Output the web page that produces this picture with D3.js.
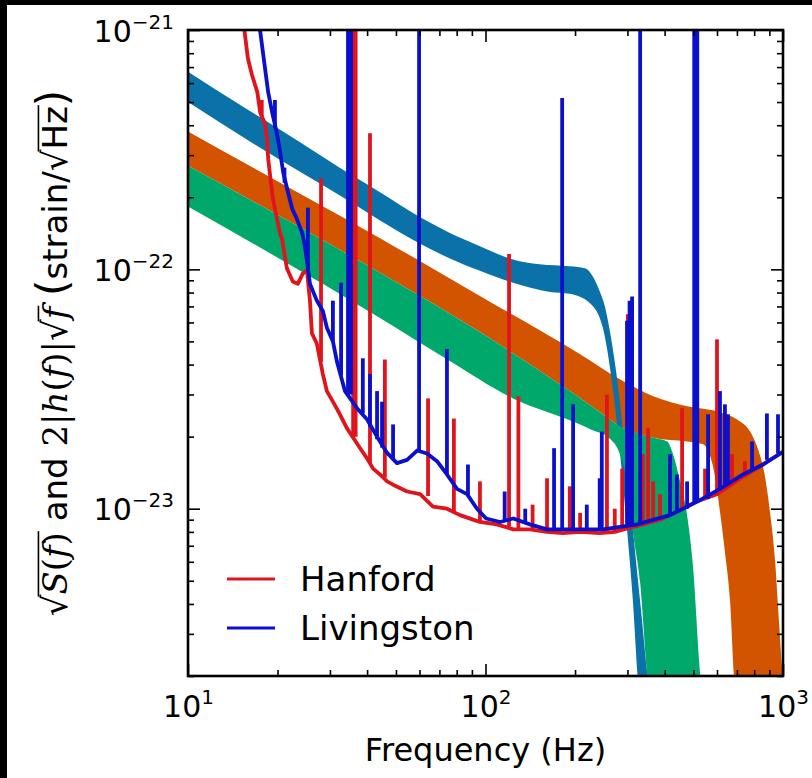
<!DOCTYPE html>
<html>
<head>
<meta charset="utf-8">
<script src="https://cdn.jsdelivr.net/npm/d3@7"></script>
<style>
  html, body { margin: 0; padding: 0; background: #fff; }
  svg { display: block; }
</style>
</head>
<body>
<svg id="chart" width="812" height="778"></svg>
<script>
// ---------------- DATA ----------------
const xMajorTicks = [10, 100, 1000];
const xTickExponents = ["1", "2", "3"];
const yMajorTicks = [1e-23, 1e-22, 1e-21];
const yTickExponents = ["\u221223", "\u221222", "\u221221"];

// Signal template bands: [frequency Hz, strain]
const blueBandUpper = [[10,6.7e-22],[16.1,4.6e-22],[23.8,3.4e-22],[35,2.5e-22],[44.2,2.1e-22],[60.3,1.65e-22],[75.9,1.42e-22],[95.8,1.25e-22],[123.7,1.1e-22],[152,1.05e-22],[192,1.03e-22],[216,1.01e-22],[230,9.3e-23],[242,8.1e-23],[252,7.0e-23],[262,5.5e-23],[272,4.1e-23],[283,2.8e-23],[294,1.73e-23],[311,8.8e-24],[331,4.1e-24],[357,1.7e-24],[365,1.5e-24]];
const blueBandLower = [[10,5.0e-22],[16.1,3.43e-22],[23.8,2.56e-22],[35,1.92e-22],[44.2,1.6e-22],[60.3,1.28e-22],[75.9,1.11e-22],[95.8,9.86e-23],[123.7,8.8e-23],[165,8.05e-23],[192,7.9e-23],[225,7.2e-23],[248,5.7e-23],[266,3.4e-23],[283,1.73e-23],[299,8.2e-24],[313,4.1e-24],[325,1.95e-24],[331,1.55e-24]];

const orangeBandUpper = [[10,3.77e-22],[23.8,2.07e-22],[44.2,1.35e-22],[95.8,7.74e-23],[208,4.42e-23],[283,3.47e-23],[366,2.95e-23],[476,2.68e-23],[614,2.53e-23],[701,2.36e-23],[775,2.10e-23],[824,1.77e-23],[870,1.36e-23],[904,9.7e-24],[941,6.0e-24],[969,3.4e-24],[1000,1.95e-24],[1050,1.5e-24]];
const orangeBandLower = [[10,2.71e-22],[44.2,9.67e-23],[95.8,5.47e-23],[192,3.10e-23],[248,2.48e-23],[283,2.21e-23],[366,1.98e-23],[476,1.91e-23],[539,1.86e-23],[569,1.66e-23],[591,1.36e-23],[614,9.7e-24],[638,6.6e-24],[664,4.1e-24],[685,1.95e-24],[700,1.5e-24]];

const greenBandUpper = [[10,2.71e-22],[44.2,9.67e-23],[95.8,5.47e-23],[192,3.10e-23],[248,2.48e-23],[283,2.21e-23],[366,1.98e-23],[408,1.91e-23],[427,1.69e-23],[451,1.30e-23],[476,9.4e-24],[498,5.8e-24],[526,2.07e-24],[540,1.5e-24]];
const greenBandLower = [[10,1.83e-22],[44.2,6.26e-23],[74.2,4.21e-23],[123.7,2.89e-23],[208,2.25e-23],[225,2.15e-23],[262,1.96e-23],[283,1.69e-23],[299,1.30e-23],[313,8.0e-24],[331,4.9e-24],[349,2.07e-24],[360,1.5e-24]];

// Detector noise curves: [frequency Hz, strain]
const hanford = [[14.96,1.62e-21],[15.5,9.8e-22],[15.9,7.6e-22],[16.4,6.5e-22],[17.1,5.5e-22],[17.5,4.5e-22],[18.1,4.1e-22],[18.4,3.6e-22],[18.6,2.9e-22],[19.0,2.3e-22],[19.3,1.97e-22],[19.8,1.68e-22],[20.4,1.41e-22],[20.7,1.34e-22],[21.5,1.01e-22],[22.5,8.9e-23],[23.4,8.7e-23],[24.3,9.6e-23],[25.1,9.9e-23],[25.7,7.4e-23],[26.1,5.4e-23],[27.1,4.9e-23],[28.4,3.65e-23],[29.3,3.1e-23],[30.7,2.8e-23],[32.4,2.48e-23],[34.2,2.17e-23],[37.9,1.79e-23],[40.0,1.62e-23],[41.9,1.47e-23],[44.2,1.39e-23],[46.7,1.30e-23],[48.9,1.26e-23],[54.5,1.18e-23],[60.3,1.15e-23],[66.6,1.02e-23],[74.2,1.0e-23],[82.1,9.4e-24],[90.8,9.0e-24],[95.8,8.8e-24],[109,8.6e-24],[124,8.2e-24],[141,8.2e-24],[161,8.0e-24],[182,7.9e-24],[208,8.0e-24],[242,7.9e-24],[272,8.0e-24],[301,8.3e-24],[338,8.6e-24],[386,9.0e-24],[440,9.7e-24],[510,1.07e-23],[600,1.15e-23],[734,1.36e-23],[857,1.53e-23],[1000,1.73e-23]];
// Spectral lines: [frequency Hz, base strain, peak strain]
const hanfordLines = [[17.7,4.3e-22,5.1e-22],[28.0,4.1e-23,2.4e-22],[35.9,2.0e-23,2e-21],[36.6,2.0e-23,2e-21],[40.9,1.55e-23,3.7e-22],[45.9,1.35e-23,4.2e-23],[64.1,1.13e-23,2.89e-23],[78.3,9.7e-24,2.38e-23],[95.8,8.8e-24,1.30e-23],[120,8.4e-24,1.16e-22],[129,8.3e-24,2.95e-23],[144,8.1e-24,1.04e-23],[161,8.0e-24,1.34e-23],[192,7.9e-24,1.24e-23],[208,8.0e-24,9.6e-24],[256,7.9e-24,3.0e-23],[272,8.0e-24,1.0e-23],[288,8.1e-24,1.47e-23],[301,8.3e-24,6.5e-23],[338,8.6e-24,1.69e-23],[352,8.7e-24,2.17e-23],[366,8.8e-24,1.3e-23],[386,9.0e-24,1.15e-23],[458,1.0e-23,2.63e-23],[547,1.1e-23,1.47e-23],[600,1.15e-23,5.1e-23],[674,1.25e-23,1.69e-23],[745,1.35e-23,1.58e-23]];

const livingston = [[16.9,1.62e-21],[17.5,9.8e-22],[18.1,7.1e-22],[18.6,5.5e-22],[19.2,4.5e-22],[19.9,3.7e-22],[20.4,3.1e-22],[20.9,2.54e-22],[21.7,2.09e-22],[22.4,1.79e-22],[23.2,1.63e-22],[24.2,1.42e-22],[24.7,1.25e-22],[25.1,1.09e-22],[25.7,8.7e-23],[27.1,7.4e-23],[28.4,6.7e-23],[29.3,5.7e-23],[30.7,5.0e-23],[31.7,4.1e-23],[33.7,3.1e-23],[37.0,2.63e-23],[40.0,2.36e-23],[43.2,2.0e-23],[46.7,1.71e-23],[50.4,1.55e-23],[54.5,1.6e-23],[58.9,1.75e-23],[63.6,1.7e-23],[68.7,1.58e-23],[74.2,1.39e-23],[80.2,1.21e-23],[86.7,1.15e-23],[93.6,1.0e-23],[100.5,9.1e-24],[112,8.8e-24],[124,9.1e-24],[141,8.6e-24],[161,8.2e-24],[182,8.2e-24],[208,8.2e-24],[248,8.2e-24],[323,8.6e-24],[417,9.4e-24],[515,1.07e-23],[614,1.21e-23],[734,1.39e-23],[857,1.53e-23],[1000,1.73e-23]];
const livingstonLines = [[19.6,3.9e-22,5.1e-22],[21.1,2.3e-22,2.66e-22],[25.3,9.9e-23,1.81e-22],[30.7,5.0e-23,7.4e-23],[32.7,3.6e-23,8.8e-23],[34.5,3.0e-23,2e-21],[35.3,3.0e-23,2e-21],[38.7,2.5e-23,4.25e-23],[40.9,2.2e-23,3.65e-23],[43.2,1.95e-23,3.1e-23],[44.9,1.8e-23,2.8e-23],[48.9,1.6e-23,2.25e-23],[59.8,1.75e-23,2e-21],[74.2,1.39e-23,4.65e-23],[87.3,1.13e-23,1.53e-23],[116,8.9e-24,1.18e-23],[136,8.7e-24,1.0e-23],[170,8.2e-24,1.79e-23],[181,8.2e-24,5.2e-22],[197,8.2e-24,2.73e-23],[219,8.2e-24,1.04e-23],[242,8.2e-24,1.34e-23],[246,8.2e-24,2.1e-23],[299,8.4e-24,6.1e-23],[305,8.5e-24,7.4e-23],[311,8.5e-24,7.7e-23],[331,8.6e-24,2e-21],[417,9.4e-24,1.69e-23],[440,9.6e-24,1.39e-23],[476,1.0e-23,1.30e-23],[503,1.07e-23,2e-21],[515,1.07e-23,2e-21],[560,1.1e-23,2.48e-23],[614,1.2e-23,3.1e-23],[638,1.25e-23,2.73e-23],[653,1.27e-23,2.48e-23],[787,1.45e-23,1.91e-23],[883,1.6e-23,2.5e-23],[962,1.7e-23,2.48e-23]];

const legendNames = ["Hanford", "Livingston"];

// ---------------- STYLE ----------------
const colors = {
  blueBand: "#0b72a9", orangeBand: "#d35400", greenBand: "#00a86b",
  hanford: "#e0141c", livingston: "#0a10cc"
};
const M = { left: 188, right: 783, top: 30, bottom: 676 };

// ---------------- DRAW ----------------
const svg = d3.select("#chart");
svg.append("rect").attr("x",0).attr("y",0).attr("width",812).attr("height",778).attr("fill","#fff");
svg.append("rect").attr("x",0).attr("y",0).attr("width",812).attr("height",5).attr("fill","#000");
svg.append("rect").attr("x",0).attr("y",0).attr("width",7).attr("height",778).attr("fill","#000");

const x = d3.scaleLog().domain([10, 1000]).range([M.left, M.right]);
const y = d3.scaleLog().domain([2e-24, 1e-21]).range([M.bottom, M.top]);

svg.append("defs").append("clipPath").attr("id","plotclip")
  .append("rect").attr("x",M.left).attr("y",M.top).attr("width",M.right-M.left).attr("height",M.bottom-M.top);

const plot = svg.append("g").attr("clip-path","url(#plotclip)");

const edge = d3.line().x(d => x(d[0])).y(d => y(d[1])).curve(d3.curveMonotoneX);
function bandPath(upper, lower) {
  const a = edge(upper);
  const b = edge(lower.slice().reverse());
  return a + "L" + b.slice(1) + "Z";
}
plot.append("path").attr("d", bandPath(orangeBandUpper, orangeBandLower)).attr("fill", colors.orangeBand);
plot.append("path").attr("d", bandPath(blueBandUpper, blueBandLower)).attr("fill", colors.blueBand);
plot.append("path").attr("d", bandPath(greenBandUpper, greenBandLower)).attr("fill", colors.greenBand);

const noiseLine = d3.line().x(d => x(d[0])).y(d => y(d[1]));
function drawNoise(base, lines, color) {
  const g = plot.append("g").attr("fill","none").attr("stroke", color)
    .attr("stroke-width", 3.8).attr("stroke-linejoin","round");
  g.append("path").attr("d", noiseLine(base));
  g.selectAll("path.line").data(lines).join("path").attr("class","line")
    .attr("d", d => noiseLine([[d[0], d[1]], [d[0], d[2]]]));
}
drawNoise(hanford, hanfordLines, colors.hanford);
drawNoise(livingston, livingstonLines, colors.livingston);

// Minor tick values (2..9 x decade)
const xMinor = [], yMinor = [];
[10, 100].forEach(dec => { for (let k = 2; k <= 9; k++) xMinor.push(k * dec); });
[1e-24, 1e-23, 1e-22].forEach(dec => { for (let k = 2; k <= 9; k++) { const v = k * dec; if (v >= 2e-24 && v < 1e-21) yMinor.push(v); } });

function styleAxis(g) {
  g.select(".domain").remove();
  g.selectAll(".tick line").attr("stroke","#000").attr("stroke-width",1.6);
}
const tickFont = "DejaVu Sans, sans-serif";
const gxb = svg.append("g").attr("transform",`translate(0,${M.bottom})`)
  .call(d3.axisBottom(x).tickValues(xMajorTicks).tickSize(-12).tickFormat(() => ""));
styleAxis(gxb);
gxb.selectAll(".tick text").each(function(d, i) {
  const t = d3.select(this);
  t.attr("y", 41).attr("dy", null).attr("fill","#000").attr("font-family", tickFont).attr("font-size", 30)
    .attr("text-anchor","middle");
  t.append("tspan").text("10");
  t.append("tspan").attr("dy", -13).attr("font-size", 20).text(xTickExponents[i]);
});
svg.append("g").attr("transform",`translate(0,${M.bottom})`)
  .call(d3.axisBottom(x).tickValues(xMinor).tickSize(-6).tickFormat(() => "")).call(styleAxis);
svg.append("g").attr("transform",`translate(0,${M.top})`)
  .call(d3.axisTop(x).tickValues(xMajorTicks).tickSize(-12).tickFormat(() => "")).call(styleAxis);
svg.append("g").attr("transform",`translate(0,${M.top})`)
  .call(d3.axisTop(x).tickValues(xMinor).tickSize(-6).tickFormat(() => "")).call(styleAxis);
const gyl = svg.append("g").attr("transform",`translate(${M.left},0)`)
  .call(d3.axisLeft(y).tickValues(yMajorTicks).tickSize(-12).tickFormat(() => ""));
styleAxis(gyl);
gyl.selectAll(".tick text").each(function(d, i) {
  const t = d3.select(this);
  t.attr("x", -14).attr("y", 11).attr("dy", null).attr("fill","#000").attr("font-family", tickFont)
    .attr("font-size", 30).attr("text-anchor","end");
  t.append("tspan").text("10");
  t.append("tspan").attr("dy", -13).attr("font-size", 20).text(yTickExponents[i]);
});
svg.append("g").attr("transform",`translate(${M.left},0)`)
  .call(d3.axisLeft(y).tickValues(yMinor).tickSize(-6).tickFormat(() => "")).call(styleAxis);
svg.append("g").attr("transform",`translate(${M.right},0)`)
  .call(d3.axisRight(y).tickValues(yMajorTicks).tickSize(-12).tickFormat(() => "")).call(styleAxis);
svg.append("g").attr("transform",`translate(${M.right},0)`)
  .call(d3.axisRight(y).tickValues(yMinor).tickSize(-6).tickFormat(() => "")).call(styleAxis);

svg.append("rect").attr("x",M.left).attr("y",M.top).attr("width",M.right-M.left).attr("height",M.bottom-M.top)
  .attr("fill","none").attr("stroke","#000").attr("stroke-width",2.6);

// X label
svg.append("text").attr("x", (M.left+M.right)/2).attr("y", 761).attr("text-anchor","middle")
  .attr("font-family", tickFont).attr("font-size", 32).attr("fill","#000").text("Frequency (Hz)");

// Y label with math pieces
const ylg = svg.append("g").attr("transform", "translate(67,353) rotate(-90)");
const ylFont = 34;
const yt = ylg.append("text").attr("text-anchor","middle").attr("font-size", ylFont)
  .attr("font-family", tickFont).attr("fill","#000");
const serif = "DejaVu Serif, serif";
const parts = [
  {s:"\u221A"}, {s:"S", it:1}, {s:"(", sf:1}, {s:"f", it:1}, {s:")", sf:1},
  {s:" and "}, {s:"2|", sf:1}, {s:"h", it:1}, {s:"(", sf:1}, {s:"f", it:1}, {s:")|", sf:1},
  {s:"\u221A"}, {s:"f", it:1}, {s:" "}, {s:"(", big:1}, {s:"strain/"}, {s:"\u221A"}, {s:"Hz"}, {s:")", big:1}
];
parts.forEach(p => {
  const ts = yt.append("tspan").text(p.s);
  if (p.it || p.sf) ts.attr("font-family", serif);
  if (p.it) ts.attr("font-style","italic");
  if (p.big) ts.attr("font-size", 42);
});
const node = yt.node();
function overline(startIdx, endIdx) {
  const x0 = node.getStartPositionOfChar(startIdx).x - 2;
  const x1 = node.getEndPositionOfChar(endIdx).x + 1;
  ylg.append("line").attr("x1", x0).attr("x2", x1).attr("y1", -0.84*ylFont).attr("y2", -0.84*ylFont)
    .attr("stroke","#000").attr("stroke-width",1.6);
}
let idx = 0; const starts = [];
parts.forEach(p => { starts.push(idx); idx += p.s.length; });
overline(starts[1], starts[4]);           // S(f)
overline(starts[12], starts[12]);         // f
overline(starts[17], starts[17] + 1);     // Hz

// Legend
const legend = svg.append("g");
legendNames.forEach((name, i) => {
  const yy = 579 + i * 49;
  legend.append("line").attr("x1", 227).attr("x2", 275).attr("y1", yy).attr("y2", yy)
    .attr("stroke", i === 0 ? colors.hanford : colors.livingston).attr("stroke-width", 3);
  legend.append("text").attr("x", 300).attr("y", yy + 12).attr("font-family", tickFont)
    .attr("font-size", 34).attr("fill","#000").text(name);
});
</script>
</body>
</html>
